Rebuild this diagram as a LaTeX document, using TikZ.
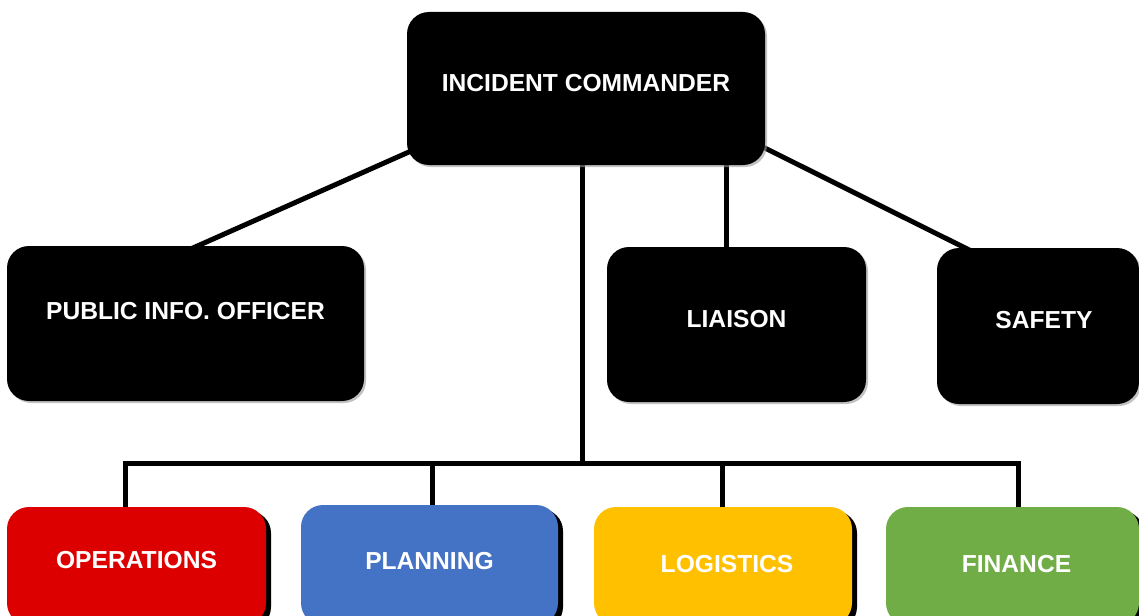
\documentclass[tikz,border=0pt]{standalone}
\usepackage{fontspec}
\setmainfont{Liberation Sans}
\usetikzlibrary{shadows,backgrounds,calc}
\definecolor{opsred}{HTML}{DD0000}
\definecolor{planblue}{HTML}{4472C4}
\definecolor{logyellow}{HTML}{FFC000}
\definecolor{fingreen}{HTML}{70AD47}
\begin{document}
\begin{tikzpicture}[x=1pt,y=-1pt,
  box/.style={rectangle, rounded corners=22pt, inner sep=0pt, text=white,
    font=\bfseries\fontsize{24.6}{28}\selectfont},
  blackbox/.style={box, fill=black,
    drop shadow={shadow xshift=2pt, shadow yshift=-2pt, fill=black!40, opacity=0.6}},
  colbox/.style={box,
    drop shadow={shadow xshift=5pt, shadow yshift=-4pt, fill=black, opacity=1}},
  conn/.style={line width=5pt, line cap=butt, line join=miter}]
\useasboundingbox (0,0) rectangle (1139,615);
\clip (0,0) rectangle (1139,615);

\node[blackbox, minimum width=358pt, minimum height=153pt, text depth=11pt] (ic) at (586,88.5) {INCIDENT COMMANDER};
\node[blackbox, minimum width=357pt, minimum height=155pt, text depth=25pt] (pio) at (185.5,323.5) {PUBLIC INFO. OFFICER};
\node[blackbox, minimum width=259pt, minimum height=155pt, text depth=11pt] (lia) at (736.5,324.5) {LIAISON};
\node[blackbox, minimum width=202pt, minimum height=156pt, text depth=12pt] (saf) at (1038,326) {\hspace*{12pt}SAFETY};

\node[colbox, fill=opsred, minimum width=259pt, minimum height=118pt, text depth=12pt] (ops) at (136.5,566) {OPERATIONS};
\node[colbox, fill=planblue, minimum width=257pt, minimum height=120pt, text depth=8pt] (plan) at (429.5,565) {PLANNING};
\node[colbox, fill=logyellow, minimum width=258pt, minimum height=118pt, text depth=4pt] (log) at (723,566) {\hspace*{8pt}LOGISTICS};
\node[colbox, fill=fingreen, minimum width=253pt, minimum height=118pt, text depth=4pt] (fin) at (1012.5,566) {\hspace*{8pt}FINANCE};

\coordinate (lx) at (726,0);
\coordinate (bus) at (582,463);
\coordinate (bl) at (125,463);
\coordinate (b2) at (432,463);
\coordinate (b3) at (722,463);
\coordinate (br) at (1018,463);

\begin{scope}[on background layer]
\draw[conn] ($(ic.south west)+(23,-22.5)$) -- ($(pio.north west)+(182,4)$);
\draw[conn] ($(ic.south east)+(-20,-27)$) -- ($(saf.north west)+(38,5)$);
\draw[conn] (ic.south -| lx) -- (lia.north -| lx);
\draw[conn] (ic.south -| bus) -- (bus);
\draw[conn] (ops.north -| bl) -- (bl) -- (br) -- (fin.north -| br);
\draw[conn] (b2) -- (plan.north -| b2);
\draw[conn] (b3) -- (log.north -| b3);
\end{scope}
\end{tikzpicture}
\end{document}
